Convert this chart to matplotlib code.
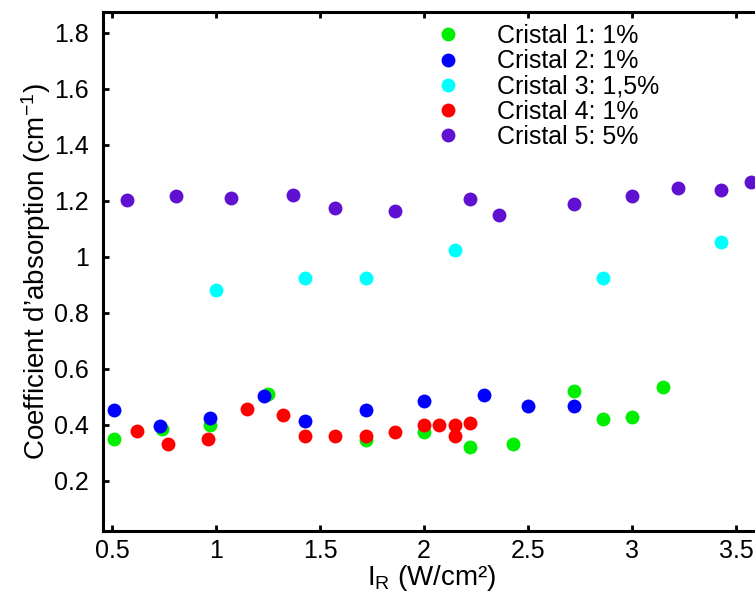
import matplotlib
matplotlib.use("Agg")
import matplotlib.pyplot as plt

plt.rcParams['font.family'] = ['Liberation Sans', 'DejaVu Sans']
plt.rcParams['mathtext.fontset'] = 'custom'
plt.rcParams['mathtext.rm'] = 'Liberation Sans'
plt.rcParams['mathtext.it'] = 'Liberation Sans'

# --- podatki (odčitani s slike) ---
x1 = [0.51, 0.74, 0.97, 1.25, 1.72, 2.00, 2.22, 2.43, 2.72, 2.86, 3.00, 3.15]
y1 = [0.348, 0.384, 0.398, 0.509, 0.345, 0.372, 0.319, 0.331, 0.519, 0.422, 0.428, 0.534]

x2 = [0.51, 0.73, 0.97, 1.23, 1.43, 1.72, 2.00, 2.29, 2.50, 2.72]
y2 = [0.454, 0.396, 0.425, 0.502, 0.413, 0.454, 0.484, 0.505, 0.466, 0.466]

x3 = [1.00, 1.43, 1.72, 2.15, 2.86, 3.43]
y3 = [0.883, 0.923, 0.923, 1.026, 0.923, 1.052]

x4 = [0.62, 0.77, 0.96, 1.15, 1.32, 1.43, 1.57, 1.72, 1.86, 2.00, 2.07, 2.15, 2.15, 2.22]
y4 = [0.377, 0.331, 0.348, 0.455, 0.434, 0.360, 0.360, 0.360, 0.374, 0.399, 0.398, 0.398, 0.360, 0.407]

x5 = [0.57, 0.81, 1.07, 1.37, 1.57, 1.86, 2.22, 2.36, 2.72, 3.00, 3.22, 3.43, 3.57]
y5 = [1.202, 1.216, 1.209, 1.220, 1.175, 1.163, 1.206, 1.150, 1.188, 1.219, 1.247, 1.239, 1.266]

serije = [
    (x1, y1, '#00ee00', 'Cristal 1: 1%'),
    (x2, y2, '#0000ff', 'Cristal 2: 1%'),
    (x3, y3, '#00ffff', 'Cristal 3: 1,5%'),
    (x4, y4, '#ff0000', 'Cristal 4: 1%'),
    (x5, y5, '#6010d0', 'Cristal 5: 5%'),
]

W, H = 755, 599
fig = plt.figure(figsize=(W / 100, H / 100), dpi=100)

# os sega čez desni rob slike (kot na originalu)
xmin, xmax = 0.457, 3.62
ymin, ymax = 0.021, 1.875
levo, spodaj, zgoraj = 103, 530.7, 12
px_na_enoto = 208
sirina = (xmax - xmin) * px_na_enoto
ax = fig.add_axes([levo / W, (H - spodaj) / H, sirina / W, (spodaj - zgoraj) / H])

for x, y, barva, ime in serije:
    ax.plot(x, y, 'o', color=barva, markersize=10, markeredgewidth=0, label=ime)

ax.set_xlim(xmin, xmax)
ax.set_ylim(ymin, ymax)
ax.set_xticks([0.5, 1, 1.5, 2, 2.5, 3, 3.5])
ax.set_xticklabels(['0.5', '1', '1.5', '2', '2.5', '3', '3.5'])
ax.set_yticks([0.2, 0.4, 0.6, 0.8, 1.0, 1.2, 1.4, 1.6, 1.8])
ax.set_yticklabels(['0.2', '0.4', '0.6', '0.8', '1', '1.2', '1.4', '1.6', '1.8'])

for s in ax.spines.values():
    s.set_linewidth(2.2)
ax.tick_params(direction='in', length=4, width=2, top=True, right=True,
               labelsize=18)
ax.tick_params(axis='x', pad=6)
ax.tick_params(axis='y', pad=10)

ax.set_xlabel('I$_\\mathregular{R}$ (W/cm²)', fontsize=20, labelpad=0)
ax.set_ylabel('Coefficient d’absorption (cm$^{\\mathregular{-1}}$)', fontsize=20, labelpad=1)

ax.legend(loc='upper left', bbox_to_anchor=(423 / W, 1 - 24 / H),
          bbox_transform=fig.transFigure, frameon=False, fontsize=18,
          borderpad=0, borderaxespad=0, handlelength=2, handletextpad=0.96,
          labelspacing=0.05)

fig.savefig('out.png', dpi=100)
